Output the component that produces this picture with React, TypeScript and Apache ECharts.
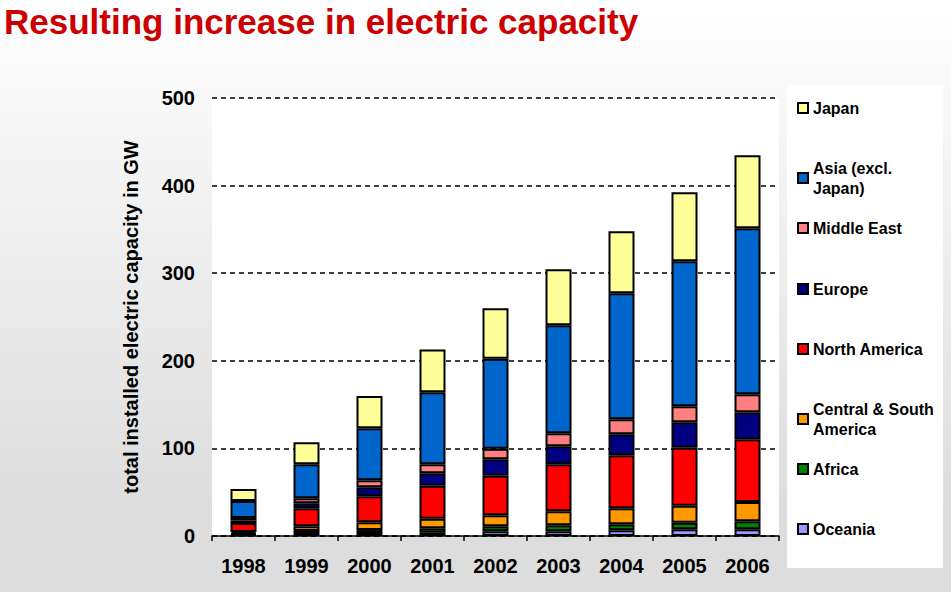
import React, { useEffect, useRef } from "react";
import * as echarts from "echarts";

const years = ["1998", "1999", "2000", "2001", "2002", "2003", "2004", "2005", "2006"];
const oceania = [1.5, 3.4, 3.4, 3.8, 5.3, 5.3, 6.5, 7.6, 7.6];
const africa = [1.0, 2.3, 3.4, 5.0, 5.7, 6.9, 6.9, 7.6, 9.2];
const centralSouthAmerica = [2.0, 5.3, 8.8, 11.0, 12.6, 16.0, 18.2, 19.4, 22.0];
const northAmerica = [10.3, 20.6, 29.7, 37.6, 45.3, 53.6, 60.5, 66.2, 71.6];
const europe = [2.7, 5.7, 10.3, 14.2, 18.6, 20.6, 24.0, 29.0, 30.8];
const middleEast = [3.0, 5.7, 8.0, 10.2, 12.2, 14.8, 17.1, 18.2, 20.6];
const asiaExclJapan = [19.4, 38.8, 59.3, 82.2, 102.7, 123.3, 143.8, 165.6, 189.5];
const japan = [13.7, 25.2, 36.9, 49.0, 57.6, 63.9, 71.0, 78.7, 83.3];
const yTicks = [0, 100, 200, 300, 400, 500];

const seriesDefs = [
  { name: "Oceania", label: "Oceania", data: oceania, color: "#9999FF" },
  { name: "Africa", label: "Africa", data: africa, color: "#008000" },
  { name: "Central & South America", label: "Central & South\nAmerica", data: centralSouthAmerica, color: "#FF9900" },
  { name: "North America", label: "North America", data: northAmerica, color: "#FF0000" },
  { name: "Europe", label: "Europe", data: europe, color: "#000080" },
  { name: "Middle East", label: "Middle East", data: middleEast, color: "#FF8080" },
  { name: "Asia (excl. Japan)", label: "Asia (excl.\nJapan)", data: asiaExclJapan, color: "#0066CC" },
  { name: "Japan", label: "Japan", data: japan, color: "#FFFF99" },
];

// legend icon centre y for each item (top to bottom)
const legendOrder = ["Japan", "Asia (excl. Japan)", "Middle East", "Europe", "North America", "Central & South America", "Africa", "Oceania"];
const legendCenters = [108, 168, 228, 289, 349, 409, 469, 529];

const FONT = "'Liberation Sans', Arial, sans-serif";

export default function App() {
  const ref = useRef<HTMLDivElement>(null);
  useEffect(() => {
    const chart = echarts.init(ref.current as HTMLDivElement, null, { renderer: "svg" });
    const labelMap: Record<string, string> = {};
    seriesDefs.forEach((s) => (labelMap[s.name] = s.label));
    const legends = legendOrder.map((name, i) => {
      const multi = labelMap[name].includes("\n");
      const lh = 20;
      return {
        show: true,
        orient: "vertical",
        left: 797,
        top: multi ? legendCenters[i] - 10 - lh / 2 : legendCenters[i] - 10,
        padding: 0,
        itemWidth: 10,
        itemHeight: 10,
        itemGap: 0,
        icon: "rect",
        selectedMode: false,
        data: [name],
        formatter: (n: string) => labelMap[n],
        textStyle: {
          fontFamily: FONT,
          fontWeight: "bold",
          fontSize: 16,
          color: "#000",
          lineHeight: lh,
          padding: multi ? [lh, 0, 0, 0] : 0,
        },
        z: 10,
      };
    });
    const option: any = {
      animation: false,
      title: {
        text: "Resulting increase in electric capacity",
        left: 4,
        top: 2,
        padding: 0,
        textStyle: { fontFamily: FONT, fontWeight: "bold", fontSize: 35, lineHeight: 38, color: "#CC0000" },
      },
      graphic: [
        {
          type: "rect",
          shape: { x: 787, y: 85, width: 156, height: 483 },
          style: { fill: "#ffffff" },
          z: 0,
        },
      ],
      legend: legends,
      grid: {
        left: 212,
        right: 172,
        top: 98,
        bottom: 56,
        show: true,
        backgroundColor: "#ffffff",
        borderWidth: 0,
      },
      xAxis: {
        type: "category",
        data: years,
        axisLine: { show: true, lineStyle: { color: "#000", width: 1.5 } },
        axisTick: { show: true, length: 5, lineStyle: { color: "#000", width: 1.5 } },
        axisLabel: { fontFamily: FONT, fontWeight: "bold", fontSize: 20, color: "#000", margin: 20 },
      },
      yAxis: {
        type: "value",
        min: yTicks[0],
        max: yTicks[yTicks.length - 1],
        interval: 100,
        name: "total installed electric capacity in GW",
        nameLocation: "middle",
        nameGap: 71,
        nameTextStyle: { fontFamily: FONT, fontWeight: "bold", fontSize: 20, color: "#000" },
        axisLine: { show: false },
        axisTick: { show: false },
        axisLabel: { fontFamily: FONT, fontWeight: "bold", fontSize: 20, color: "#000", margin: 17 },
        splitLine: { show: true, lineStyle: { color: "#000", width: 1.5, type: [5, 4] } },
      },
      series: seriesDefs.map((s) => ({
        name: s.name,
        type: "bar",
        stack: "total",
        data: s.data,
        barWidth: 26,
        itemStyle: { color: s.color, borderColor: "#000", borderWidth: 2 },
      })),
    };
    chart.setOption(option);
    return () => chart.dispose();
  }, []);
  return (
    <div
      style={{
        position: "fixed",
        left: 0,
        top: 0,
        width: 951,
        height: 592,
        background: "linear-gradient(to bottom, #ffffff 0%, #dddddd 85%, #dddddd 100%)",
      }}
    >
      <div ref={ref} style={{ width: 951, height: 592 }} />
    </div>
  );
}
